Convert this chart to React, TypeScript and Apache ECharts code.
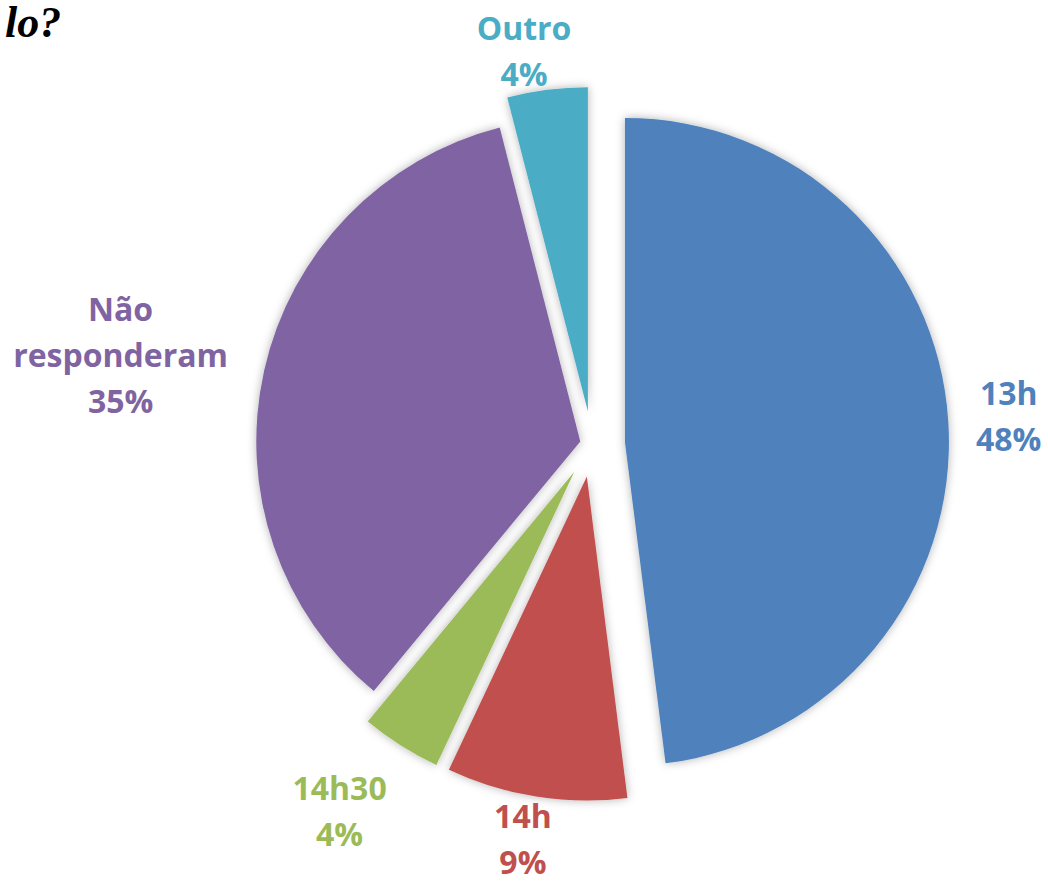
import React, { useEffect, useRef } from "react";
import * as echarts from "echarts";

const categories = ["13h", "14h", "14h30", "Não responderam", "Outro"];
const values = [48, 9, 4, 35, 4];
const colors = ["#4F81BD", "#C0504D", "#9BBB59", "#8064A2", "#4BACC6"];
const explode = [33, 33, 33, 12, 33];
const titleText = "lo?";

const W = 1048;
const H = 884;
const CX = 592;
const CY = 444;
const R = 324;
const LABEL_GAP = 22;
// small per-label nudges (dx, dy) mimicking the original label placement
const labelNudge = [
  [3, -2],
  [-2, 10],
  [-15, -8],
  [-5, 15],
  [-14, 0],
];

export default function App() {
  const ref = useRef<HTMLDivElement>(null);

  useEffect(() => {
    if (!ref.current) return;
    const chart = echarts.init(ref.current, undefined, { renderer: "svg" });
    const total = values.reduce((a, b) => a + b, 0);
    const mids: number[] = [];
    let cum = 0;
    values.forEach((v) => {
      mids.push(((cum + v / 2) / total) * Math.PI * 2);
      cum += v;
    });

    const series = values.map((_, k) => {
      const dx = Math.sin(mids[k]);
      const dy = -Math.cos(mids[k]);
      const ax = CX + explode[k] * dx;
      const ay = CY + explode[k] * dy;
      return {
        type: "pie",
        silent: true,
        animation: false,
        center: [ax, ay],
        radius: R,
        startAngle: 90,
        clockwise: true,
        avoidLabelOverlap: false,
        emphasis: { disabled: true },
        labelLine: { show: false },
        labelLayout: (p: any) => {
          const w = p.labelRect.width;
          const h = p.labelRect.height;
          const ext = (Math.abs(dx) * w) / 2 + (Math.abs(dy) * h) / 2;
          let x = ax + (R + LABEL_GAP + ext) * dx;
          let y = ay + (R + LABEL_GAP + ext) * dy;
          if (y - h / 2 < 4) y = 4 + h / 2;
          if (y + h / 2 > H - 10) y = H - 10 - h / 2;
          x += labelNudge[k][0];
          y += labelNudge[k][1];
          return { x, y, align: "center", verticalAlign: "middle" };
        },
        data: categories.map((name, i) => ({
          name,
          value: values[i],
          itemStyle:
            i === k
              ? {
                  color: colors[i],
                  shadowBlur: 10,
                  shadowColor: "rgba(0,0,0,0.3)",
                }
              : { color: "rgba(0,0,0,0)" },
          label:
            i === k
              ? {
                  show: true,
                  position: "outside",
                  color: colors[i],
                  fontFamily: "Open Sans",
                  fontWeight: "bold",
                  fontSize: 32,
                  lineHeight: 46,
                  align: "center",
                  formatter: (p: any) =>
                    p.name.replace(" ", "\n") + "\n" + Math.round(p.percent) + "%",
                }
              : { show: false },
        })),
      };
    });

    chart.setOption({
      animation: false,
      backgroundColor: "#ffffff",
      graphic: [
        {
          type: "text",
          left: 5,
          top: 0,
          style: {
            text: titleText,
            font: "italic bold 44px 'Liberation Serif'",
            fill: "#000000",
          },
        },
      ],
      series,
    });
    return () => chart.dispose();
  }, []);

  return (
    <div
      ref={ref}
      style={{ position: "fixed", left: 0, top: 0, width: W, height: H }}
    />
  );
}
